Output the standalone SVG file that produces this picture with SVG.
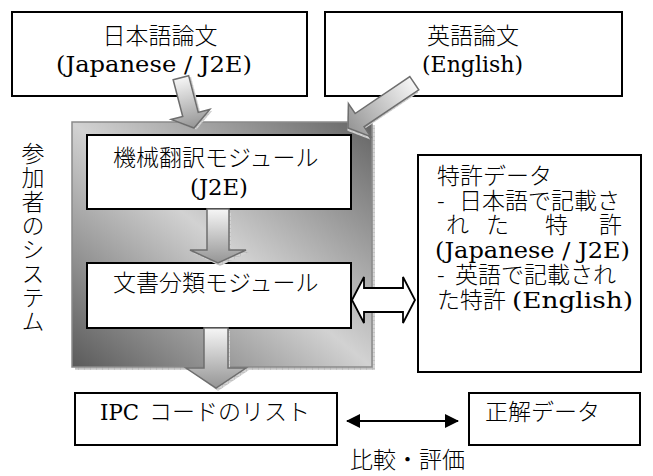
<svg xmlns="http://www.w3.org/2000/svg" width="653" height="476" viewBox="0 0 653 476">
<style>
.box{fill:#fff;stroke:#000;stroke-width:2}
.t{font-family:"Noto Sans CJK JP",sans-serif;font-size:23px;font-weight:300;fill:#000}
.l{font-family:"DejaVu Serif","Liberation Serif",serif;font-size:22px;font-weight:400;fill:#000}
.m{text-anchor:middle}
.garrow{stroke:#6e6e6e;stroke-width:1.5;stroke-linejoin:miter}
.shadow{fill:url(#hatch);stroke:none}
</style>
<defs>
<linearGradient id="sysGrad" x1="1" y1="0" x2="0" y2="1">
<stop offset="0" stop-color="#646464"/>
<stop offset="0.5" stop-color="#d2d2d2"/>
<stop offset="1" stop-color="#5a5a5a"/>
</linearGradient>
<linearGradient id="arrGrad" x1="0" y1="0" x2="0" y2="1">
<stop offset="0" stop-color="#f6f6f6"/>
<stop offset="1" stop-color="#959595"/>
</linearGradient>
<pattern id="hatch" width="6" height="4" patternUnits="userSpaceOnUse">
<rect width="6" height="4" fill="#d4d4d4"/>
<path d="M0,0H6M0,0V4" stroke="#a8a8a8" stroke-width="0.8"/>
</pattern>
<marker id="blk" viewBox="0 0 14 14" refX="13" refY="7" markerWidth="14" markerHeight="14" markerUnits="userSpaceOnUse" orient="auto-start-reverse">
<path d="M0,0 L14,7 L0,14 Z" fill="#000"/>
</marker>
</defs>

<g id="node-jp">
<rect class="box" x="12" y="12" width="295" height="84"/>
<text class="t m" x="160" y="44">日本語論文</text>
<text class="l" x="56" y="72" textLength="196" lengthAdjust="spacingAndGlyphs">(Japanese / J2E)</text>
</g>

<g id="node-en">
<rect class="box" x="325" y="12" width="297" height="84"/>
<text class="t m" x="473" y="44">英語論文</text>
<text class="l" x="422" y="72" textLength="101" lengthAdjust="spacingAndGlyphs">(English)</text>
</g>

<g id="node-system">
<rect class="shadow" x="75" y="125" width="300" height="245"/>
<rect x="72" y="122" width="300" height="245" fill="url(#sysGrad)" stroke="#8a8a8a" stroke-width="1.5"/>
<text class="t" x="33" y="142" writing-mode="vertical-rl" letter-spacing="1">参加者のシステム</text>
</g>

<g id="node-mt">
<rect class="box" x="87" y="135" width="264" height="74"/>
<text class="t" x="113" y="166">機械翻訳モジュール</text>
<text class="l" x="190" y="195" textLength="58" lengthAdjust="spacingAndGlyphs">(J2E)</text>
</g>

<g id="node-dc">
<rect class="box" x="87" y="263" width="264" height="65"/>
<text class="t" x="113" y="291">文書分類モジュール</text>
</g>

<g id="node-patent">
<rect class="box" x="418" y="155" width="223" height="217"/>
<text class="t"><tspan x="437" y="184">特許データ</tspan><tspan x="437" y="209">-</tspan><tspan x="459" y="209">日本語で記載さ</tspan><tspan x="446" y="233">れ</tspan><tspan x="486" y="233">た</tspan><tspan x="545" y="233">特</tspan><tspan x="599" y="233">許</tspan><tspan x="437" y="283">-</tspan><tspan x="455" y="283">英語で記載され</tspan><tspan x="437" y="308">た特許</tspan></text>
<text class="l" x="435" y="258" textLength="195" lengthAdjust="spacingAndGlyphs">(Japanese / J2E)</text>
<text class="l" x="512" y="308" textLength="121" lengthAdjust="spacingAndGlyphs">(English)</text>
</g>

<g id="node-ipc">
<rect class="box" x="75" y="393" width="262" height="52"/>
<text class="l" x="100" y="420" textLength="39" lengthAdjust="spacingAndGlyphs">IPC</text>
<text class="t" x="149" y="420">コードのリスト</text>
</g>

<g id="node-gold">
<rect class="box" x="469" y="393" width="171" height="52"/>
<text class="t" x="485" y="420">正解データ</text>
</g>

<g id="connectors">
<g transform="translate(194,128) rotate(-14.6)">
<path class="shadow" transform="translate(2,2)" d="M-8,-52 L8,-52 L8,-14 L20,-14 L0,0 L-20,-14 L-8,-14 Z"/>
<path class="garrow" fill="url(#arrGrad)" d="M-8,-52 L8,-52 L8,-14 L20,-14 L0,0 L-20,-14 L-8,-14 Z"/>
</g>
<g transform="translate(348,128) rotate(56)">
<path class="shadow" transform="translate(2,2)" d="M-8,-80 L8,-80 L8,-14 L20,-14 L0,0 L-20,-14 L-8,-14 Z"/>
<path class="garrow" fill="url(#arrGrad)" d="M-8,-80 L8,-80 L8,-14 L20,-14 L0,0 L-20,-14 L-8,-14 Z"/>
</g>
<path class="shadow" d="M209,212 L231,212 L231,252 L249,252 L220,266 L191,252 L209,252 Z"/>
<path class="garrow" fill="url(#arrGrad)" d="M207,209 L229,209 L229,250 L246,250 L218,263 L190,250 L207,250 Z"/>
<path class="shadow" d="M206,331 L230,331 L230,370 L249,370 L218,391 L189,370 L206,370 Z"/>
<path class="garrow" fill="url(#arrGrad)" d="M204,328 L228,328 L228,368 L246,368 L216,388 L186,368 L204,368 Z"/>
<path fill="#fff" stroke="#000" stroke-width="1.8" stroke-linejoin="miter" d="M352,300 L364,277 L364,288 L403,288 L403,277 L415,300 L403,323 L403,312 L364,312 L364,323 Z"/>
<line x1="347" y1="421" x2="458" y2="421" stroke="#000" stroke-width="2" marker-start="url(#blk)" marker-end="url(#blk)"/>
<text class="t" x="350" y="468">比較・評価</text>
</g>
</svg>
